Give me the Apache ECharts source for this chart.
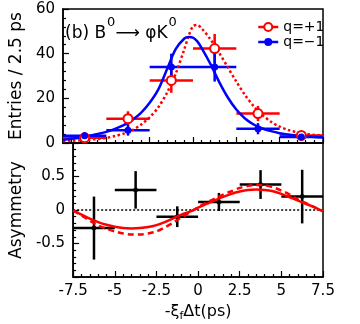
<!DOCTYPE html>
<html>
<head>
<meta charset="utf-8">
<script src="https://cdn.jsdelivr.net/npm/echarts@6/dist/echarts.min.js"></script>
<style>
html,body{margin:0;padding:0;background:#fff;}
#chart{width:360px;height:324px;}
</style>
</head>
<body>
<div id="chart"></div>
<script>
// ---- data ----
const binCenters = [-6.25, -3.75, -1.25, 1.25, 3.75, 6.25];
const binHalfWidth = 1.25;
const redEntries = [2.3, 10.9, 28, 42.3, 13.2, 3.4];
const redErr = [1.5, 3.3, 5.5, 6.5, 3.4, 1.8];
const blueEntries = [3.2, 5.7, 34, 34, 6.4, 2.7];
const blueErr = [1.7, 2.4, 6, 6.5, 2.5, 1.6];

const fitT = [-7.5,-7,-6.5,-6,-5.5,-5,-4.5,-4,-3.5,-3,-2.5,-2,-1.5,-1,-0.5,-0.25,0,0.25,0.5,1,1.5,2,2.5,3,3.5,4,4.5,5,5.5,6,6.5,7,7.5];
const blueFit = [1.4,1.9,2.5,3.2,4.0,5.0,6.3,8.0,10.3,13.5,18,24,33,42,46.8,47.5,47.2,45.5,42.5,35.5,27.5,20.5,15,11,8.3,6.5,5.3,4.4,3.8,3.3,3.0,2.7,2.5];
const redFit = [0.8,1.0,1.2,1.5,1.8,2.3,3.1,4.2,5.8,8.2,11.5,16,22.5,31,42,48,52.3,52.8,51.3,46.5,40.5,34,27.5,21.5,16.5,12.5,9.5,7.3,5.8,4.8,4.1,3.6,3.3];

const asymT = [-7.5,-7,-6.5,-6,-5.5,-5,-4.5,-4,-3.5,-3,-2.5,-2,-1.5,-1,-0.5,0,0.5,1,1.5,2,2.5,3,3.5,4,4.5,5,5.5,6,6.5,7,7.5];
const asymSolid = [-0.01,-0.07,-0.13,-0.18,-0.22,-0.25,-0.27,-0.275,-0.27,-0.255,-0.225,-0.18,-0.125,-0.07,-0.025,0.035,0.09,0.145,0.195,0.24,0.275,0.3,0.305,0.3,0.28,0.24,0.19,0.14,0.09,0.04,-0.02];
const asymDashed = [-0.01,-0.08,-0.16,-0.23,-0.28,-0.32,-0.35,-0.365,-0.365,-0.35,-0.32,-0.26,-0.19,-0.11,-0.035,0.04,0.11,0.17,0.23,0.28,0.33,0.36,0.375,0.37,0.34,0.29,0.23,0.155,0.1,0.04,-0.01];
const asymValues = [-0.27, 0.30, -0.10, 0.12, 0.38, 0.20];
const asymErr = [0.47, 0.28, 0.155, 0.135, 0.215, 0.40];

const xTicks = [-7.5, -5, -2.5, 0, 2.5, 5, 7.5];

// ---- chart ----
const FONT = 'DejaVu Sans';
const RED = '#ff0000', BLUE = '#0000ff', BLACK = '#000000';
const chart = echarts.init(document.getElementById('chart'), null, {renderer: 'canvas'});

function pairs(xs, ys) { return xs.map((x, i) => [x, ys[i]]); }

function errorBars(xIdx, yIdx, ys, errs, color, z) {
  return {
    type: 'custom', xAxisIndex: xIdx, yAxisIndex: yIdx, z: z, silent: true,
    encode: {x: 0, y: 1},
    data: binCenters.map((x, i) => [x, ys[i], errs[i]]),
    renderItem: function (params, api) {
      const x = api.value(0), y = api.value(1), e = api.value(2);
      const l = api.coord([x - binHalfWidth, y]);
      const r = api.coord([x + binHalfWidth, y]);
      const t = api.coord([x, y + e]);
      const b = api.coord([x, y - e]);
      return {
        type: 'group',
        children: [
          {type: 'line', shape: {x1: l[0], y1: l[1], x2: r[0], y2: r[1]}, style: {stroke: color, lineWidth: 2.5}},
          {type: 'line', shape: {x1: t[0], y1: t[1], x2: b[0], y2: b[1]}, style: {stroke: color, lineWidth: 2.5}}
        ]
      };
    }
  };
}

function xAxisDef(gi, showLabels) {
  return {
    type: 'value', gridIndex: gi, min: -7.5, max: 7.5, interval: 2.5,
    axisLine: {show: true, onZero: false, lineStyle: {color: BLACK, width: 1.5}},
    axisTick: {show: true, inside: true, length: 6, lineStyle: {color: BLACK, width: 1.2}},
    minorTick: {show: true, splitNumber: 5, length: 3, lineStyle: {color: BLACK, width: 1.2}},
    splitLine: {show: false},
    axisLabel: {show: showLabels, margin: 7, color: BLACK, fontFamily: FONT, fontSize: 15,
      formatter: v => (xTicks.indexOf(v) >= 0 ? String(v) : '')},
    name: showLabels ? '-ξ{sub|f}Δt(ps)' : '',
    nameLocation: 'middle', nameGap: 24,
    nameTextStyle: {color: BLACK, fontFamily: FONT, fontSize: 16,
      rich: {sub: {fontFamily: FONT, fontSize: 11, color: BLACK, padding: [10, 0, 0, 0]}}}
  };
}

function yAxisDef(gi, min, max, interval, name, fmt) {
  return {
    type: 'value', gridIndex: gi, min: min, max: max, interval: interval,
    axisLine: {show: true, onZero: false, lineStyle: {color: BLACK, width: 1.5}},
    axisTick: {show: true, inside: true, length: 6, lineStyle: {color: BLACK, width: 1.2}},
    minorTick: {show: true, splitNumber: 5, length: 3, lineStyle: {color: BLACK, width: 1.2}},
    splitLine: {show: false},
    axisLabel: {margin: 8, color: BLACK, fontFamily: FONT, fontSize: 15, formatter: fmt},
    name: name, nameLocation: 'middle', nameGap: 34,
    nameTextStyle: {color: BLACK, fontFamily: FONT, fontSize: 17}
  };
}

const option = {
  animation: false,
  backgroundColor: '#fff',
  grid: [
    {left: 61, top: 9, width: 262, height: 134, show: true, borderColor: BLACK, borderWidth: 1.5, backgroundColor: 'transparent'},
    {left: 61, top: 143, width: 262, height: 134, show: true, borderColor: BLACK, borderWidth: 1.5, backgroundColor: 'transparent'}
  ],
  xAxis: [xAxisDef(0, false), xAxisDef(1, true)],
  yAxis: [
    yAxisDef(0, 0, 60, 20, 'Entries / 2.5 ps', v => String(v)),
    yAxisDef(1, -1, 1, 0.5, 'Asymmetry', v => (Math.abs(v) > 0.9 ? '' : String(v)))
  ],
  legend: {
    data: [{name: 'q=+1'}, {name: 'q=−1'}],
    orient: 'vertical', left: 252, top: 15, itemWidth: 20, itemHeight: 10, itemGap: 1,
    selectedMode: false,
    textStyle: {color: BLACK, fontFamily: FONT, fontSize: 14, lineHeight: 13},
    lineStyle: {width: 2.5, opacity: 1}
  },
  graphic: [
    {type: 'text', left: 65, top: 16, silent: true,
      style: {text: '(b) B{sup|0}⟶ φK{sup|0}', fill: BLACK, font: '17px "DejaVu Sans"',
        rich: {sup: {fontFamily: FONT, fontSize: 13, fill: BLACK, padding: [0, 0, 22, 1]}}}}
  ],
  series: [
    // top panel
    errorBars(0, 0, redEntries, redErr, RED, 2),
    errorBars(0, 0, blueEntries, blueErr, BLUE, 3),
    {type: 'line', name: 'red-fit', xAxisIndex: 0, yAxisIndex: 0, data: pairs(fitT, redFit), smooth: 0.3,
      showSymbol: false, lineStyle: {color: RED, width: 2.5, type: [2.5, 2.5]}, z: 4, silent: true},
    {type: 'line', name: 'blue-fit', xAxisIndex: 0, yAxisIndex: 0, data: pairs(fitT, blueFit), smooth: 0.3,
      showSymbol: false, lineStyle: {color: BLUE, width: 2.5}, z: 5, silent: true},
    {type: 'line', name: 'q=+1', xAxisIndex: 0, yAxisIndex: 0, data: pairs(binCenters, redEntries),
      symbol: 'emptyCircle', symbolSize: 9, showSymbol: true, showAllSymbol: true,
      lineStyle: {width: 0, opacity: 0, color: RED}, itemStyle: {color: RED, borderColor: RED, borderWidth: 2.5}, z: 6, silent: true},
    {type: 'line', name: 'q=−1', xAxisIndex: 0, yAxisIndex: 0, data: pairs(binCenters, blueEntries),
      symbol: 'circle', symbolSize: 7, showSymbol: true, showAllSymbol: true,
      lineStyle: {width: 0, opacity: 0, color: BLUE}, itemStyle: {color: BLUE}, z: 6, silent: true},
    // bottom panel
    errorBars(1, 1, asymValues, asymErr, BLACK, 3),
    {type: 'scatter', name: 'asym', xAxisIndex: 1, yAxisIndex: 1, data: pairs(binCenters, asymValues),
      symbol: 'circle', symbolSize: 5, itemStyle: {color: BLACK}, z: 4, silent: true,
      markLine: {silent: true, symbol: 'none', label: {show: false},
        lineStyle: {color: BLACK, width: 1.5, type: [2, 2]}, data: [{yAxis: 0}]}},
    {type: 'line', name: 'asym-dashed', xAxisIndex: 1, yAxisIndex: 1, data: pairs(asymT, asymDashed), smooth: 0.3,
      showSymbol: false, lineStyle: {color: RED, width: 2.5, type: [6, 4]}, z: 5, silent: true},
    {type: 'line', name: 'asym-solid', xAxisIndex: 1, yAxisIndex: 1, data: pairs(asymT, asymSolid), smooth: 0.3,
      showSymbol: false, lineStyle: {color: RED, width: 2.5}, z: 5, silent: true}
  ]
};
chart.setOption(option);
</script>
</body>
</html>
